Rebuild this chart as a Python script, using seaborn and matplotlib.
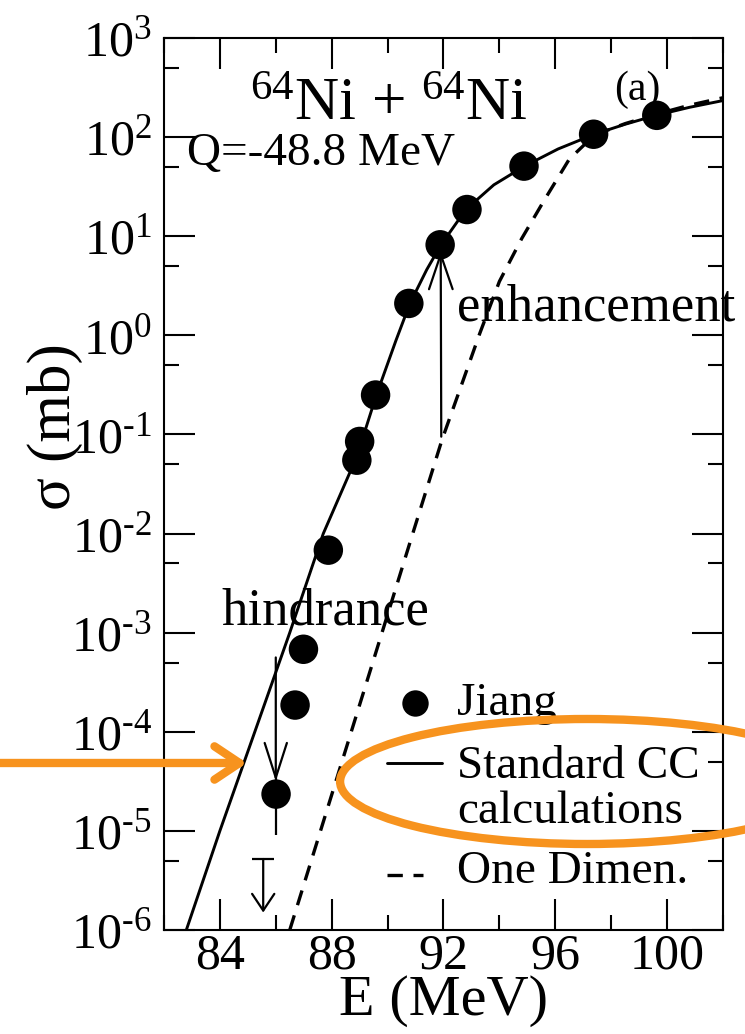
import numpy as np
import pandas as pd
import matplotlib
matplotlib.use("Agg")
import matplotlib.pyplot as plt
import seaborn as sns
from matplotlib.ticker import LogLocator, MultipleLocator, FuncFormatter, NullFormatter
from matplotlib.patches import Ellipse, FancyArrowPatch
from matplotlib.lines import Line2D

# ---------------- data ----------------
jiang_E = [86.01, 86.69, 86.99, 87.88, 88.90, 89.00, 89.57, 90.76, 91.88, 92.84, 94.88, 97.37, 99.63]
jiang_sigma = [2.35e-5, 1.86e-4, 6.8e-4, 6.8e-3, 0.055, 0.085, 0.25, 2.1, 8.2, 18.6, 51.0, 107.0, 166.0]

err_E = [86.01]
err_sigma = [2.35e-5]
err_low = [1.44e-5]
err_high = [1.44e-5]

limit_E = [85.55]
limit_sigma = [5.2e-6]

cc_E = [82.8, 84.0, 85.25, 86.5, 87.7, 88.9, 89.6, 90.3, 90.8, 91.4, 91.9, 92.8,
        93.8, 94.9, 96.1, 97.4, 98.5, 99.6, 100.8, 102.0]
cc_sigma = [1.0e-6, 1.0e-5, 1.0e-4, 1.0e-3, 1.0e-2, 6.0e-2, 0.25, 0.89, 2.1, 4.6, 8.1, 18.6,
            33.0, 51.0, 76.0, 107.0, 135.0, 166.0, 200.0, 234.0]

od_E = [86.5, 87.6, 88.7, 89.8, 90.9, 91.95, 92.7, 93.3, 94.0, 94.8, 95.6, 96.5,
        97.4, 98.5, 99.6, 100.8, 102.0]
od_sigma = [1.0e-6, 1.0e-5, 1.0e-4, 1.0e-3, 1.0e-2, 0.089, 0.35, 1.05, 3.5, 9.5, 23.0, 60.0,
            105.0, 137.0, 170.0, 210.0, 250.0]

x_major = [84, 88, 92, 96, 100]
legend_labels = ["Jiang", "Standard CC", "calculations", "One Dimen."]

# ---------------- style ----------------
sns.set_theme(style="ticks")
plt.rcParams["font.family"] = ["Liberation Serif", "DejaVu Serif"]
plt.rcParams["mathtext.fontset"] = "custom"
plt.rcParams["mathtext.rm"] = "Liberation Serif"
plt.rcParams["mathtext.it"] = "Liberation Serif:italic"
plt.rcParams["mathtext.bf"] = "Liberation Serif:bold"
plt.rcParams["mathtext.default"] = "regular"
for key in ["text.color", "axes.labelcolor", "xtick.color", "ytick.color",
            "xtick.labelcolor", "ytick.labelcolor", "axes.edgecolor"]:
    plt.rcParams[key] = "black"

fig = plt.figure(figsize=(7.45, 10.34), dpi=100)
fig.patch.set_facecolor("white")
ax = fig.add_axes([0.2201, 0.1006, 0.7504, 0.8626])
ax.set_facecolor("white")
ax.set_yscale("log")

cc = pd.DataFrame({"E": cc_E, "sigma": cc_sigma})
od = pd.DataFrame({"E": od_E, "sigma": od_sigma})
jd = pd.DataFrame({"E": jiang_E, "sigma": jiang_sigma})

sns.lineplot(data=cc, x="E", y="sigma", ax=ax, color="black", lw=2.1,
             estimator=None, sort=False)
sns.lineplot(data=od, x="E", y="sigma", ax=ax, color="black", lw=2.4,
             estimator=None, sort=False)
ax.lines[-1].set_dashes([4.6, 3.2])

ax.errorbar(err_E, err_sigma, yerr=[err_low, err_high], fmt="none",
            ecolor="black", elinewidth=1.6, capsize=0, zorder=4)
sns.scatterplot(data=jd, x="E", y="sigma", ax=ax, color="black", s=450,
                edgecolor="none", linewidth=0, zorder=5)

# upper limit
ax.hlines(limit_sigma, [e - 0.39 for e in limit_E], [e + 0.39 for e in limit_E],
          color="black", lw=1.6)
for e, s in zip(limit_E, limit_sigma):
    ax.annotate("", xy=(e, s * 10 ** -0.54), xytext=(e, s),
                arrowprops=dict(arrowstyle="->,head_length=1.2,head_width=0.8",
                                mutation_scale=10, lw=1.6, color="black",
                                shrinkA=0, shrinkB=0))

# hindrance / enhancement arrows
ax.annotate("", xy=(86.0, 10 ** -4.50), xytext=(86.0, 10 ** -3.25),
            arrowprops=dict(arrowstyle="->,head_length=2.5,head_width=0.8",
                            mutation_scale=10, lw=1.6, color="black",
                            shrinkA=0, shrinkB=0))
ax.annotate("", xy=(91.9, 7.1), xytext=(91.92, 0.095),
            arrowprops=dict(arrowstyle="->,head_length=2.5,head_width=0.85",
                            mutation_scale=10, lw=1.6, color="black",
                            shrinkA=0, shrinkB=0))

ax.text(84.04, 10 ** -2.92, "hindrance", fontsize=38, va="baseline", ha="left")
ax.text(92.5, 10 ** 0.154, "enhancement", fontsize=38, va="baseline", ha="left")
ax.text(85.08, 10 ** 2.17, r"$^{64}$Ni + $^{64}$Ni", fontsize=44, va="baseline", ha="left")
ax.text(82.82, 10 ** 1.72, "Q=-48.8 MeV", fontsize=34, va="baseline", ha="left")
ax.text(98.95, 10 ** 2.475, "(a)", fontsize=30, ha="center", va="center")

# axes, ticks
ax.set_xlim(82, 102)
ax.set_ylim(1e-6, 1e3)
ax.xaxis.set_major_locator(plt.FixedLocator(x_major))
ax.xaxis.set_minor_locator(MultipleLocator(2))
ax.yaxis.set_major_locator(LogLocator(base=10, numticks=20))
ax.yaxis.set_minor_locator(LogLocator(base=10, subs=[5.0], numticks=20))
ax.yaxis.set_minor_formatter(NullFormatter())


def ylab(v, p):
    k = int(round(np.log10(v)))
    if k < 0:
        return "$10^{\u2010%d}$" % (-k)
    return "$10^{%d}$" % k


ax.yaxis.set_major_formatter(FuncFormatter(ylab))
ax.tick_params(which="major", direction="in", length=22, width=1.5, top=True, right=True,
               labelsize=36, color="black", labelcolor="black")
ax.tick_params(which="minor", direction="in", length=11, width=1.5, top=True, right=True,
               color="black")
ax.tick_params(axis="x", which="major", pad=2)
ax.tick_params(axis="y", which="major", pad=9)
for sp in ax.spines.values():
    sp.set_linewidth(1.5)
    sp.set_color("black")

ax.set_xlabel("E (MeV)", fontsize=42, color="black")
ax.xaxis.set_label_coords(0.5, -0.050)
ax.set_ylabel("σ (mb)", fontsize=44, color="black")
ax.yaxis.set_label_coords(-0.145, 0.564)

# legend drawn by hand (label on first line of a two-line entry)
tr = ax.transAxes
ax.add_line(Line2D([0.449], [0.2545], marker="o", markersize=19, color="black",
                   markeredgewidth=0, transform=tr))
ax.text(0.524, 0.241, legend_labels[0], fontsize=34, transform=tr, va="baseline")
ax.add_line(Line2D([0.399, 0.497], [0.187, 0.187], color="black", lw=2.1, transform=tr))
ax.text(0.524, 0.170, legend_labels[1], fontsize=34, transform=tr, va="baseline")
ax.text(0.524, 0.120, legend_labels[2], fontsize=34, transform=tr, va="baseline")
dl = Line2D([0.399, 0.463], [0.0617, 0.0617], color="black", lw=2.4, transform=tr)
dl.set_dashes([4.6, 3.2])
ax.add_line(dl)
ax.text(0.524, 0.0527, legend_labels[3], fontsize=34, transform=tr, va="baseline")

# orange overlay annotations
orange = "#F7931E"
fig.add_artist(Ellipse((0.788, 0.2442), 0.663, 0.1209, transform=fig.transFigure,
                       fill=False, edgecolor=orange, lw=6, zorder=10))
fig.add_artist(FancyArrowPatch((0.0, 0.2621), (0.3315, 0.2621), transform=fig.transFigure,
                               arrowstyle="->,head_length=1.8,head_width=1.2",
                               mutation_scale=10, lw=6, color=orange,
                               shrinkA=0, shrinkB=0, zorder=10))

fig.savefig("out.png", dpi=100, facecolor="white")
